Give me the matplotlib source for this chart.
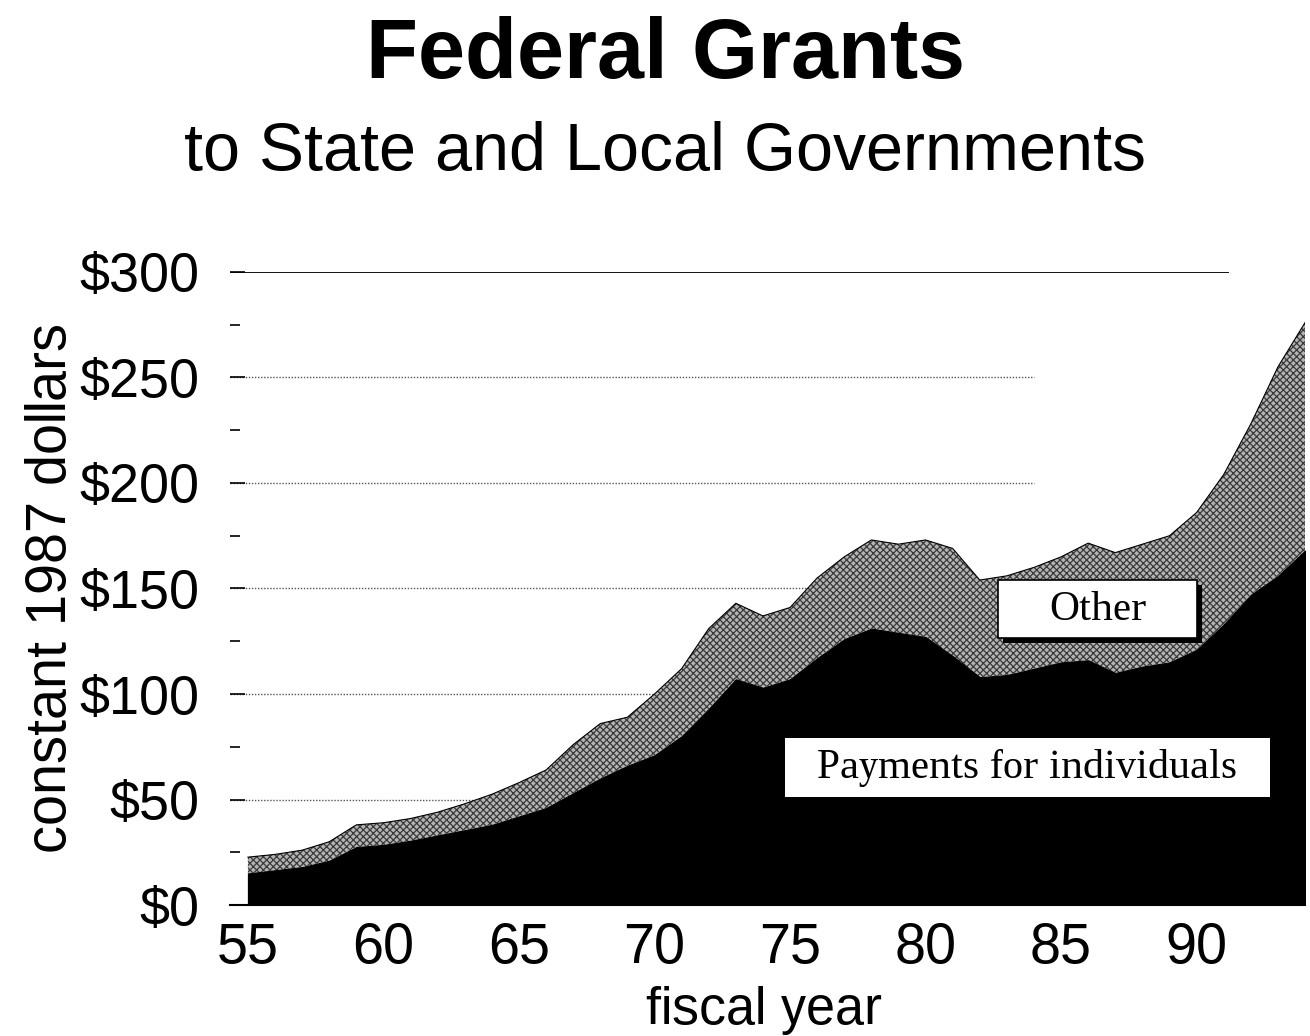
import matplotlib
matplotlib.use("Agg")
import matplotlib.pyplot as plt
from matplotlib.patches import Rectangle
import numpy as np

# fiscal years (19xx)
years = list(range(55, 95))

# billions of constant 1987 dollars
payments = [15, 16.5, 18, 21, 27.5, 28.5, 30.5, 33, 35.5, 38,
            42, 46, 53, 60, 66, 71, 80, 93, 107, 103,
            107, 117, 126, 131, 129, 127, 118, 108, 109, 112,
            115, 116, 110, 113, 115, 121, 133, 147, 156, 168]
other = [7.7, 7.5, 8, 9, 10.5, 10.5, 10.5, 11, 12.5, 14.5,
         16, 18, 23, 26, 23, 29, 32, 38, 36, 34,
         34, 38, 39, 42, 42, 46, 51, 46, 47, 48,
         50, 55.5, 57, 58, 60, 65, 71, 81, 99, 108]

y_ticks = [0, 50, 100, 150, 200, 250, 300]
y_tick_labels = ["$0", "$50", "$100", "$150", "$200", "$250", "$300"]
x_ticks = [55, 60, 65, 70, 75, 80, 85, 90]

SANS = "Liberation Sans"
SERIF = "Liberation Serif"

plt.rcParams["font.family"] = SANS
plt.rcParams["hatch.linewidth"] = 0.9
plt.rcParams["text.hinting"] = "native"
plt.rcParams["text.hinting_factor"] = 1

fig = plt.figure(figsize=(13.1, 10.36), dpi=100)
ax = fig.add_axes([0.1756, 0.1264, 0.8206, 0.6111])

x = np.array(years)
pay = np.array(payments)
total = pay + np.array(other)

# grid lines behind the areas
ax.hlines(300, 54.34, 91.2, color="black", lw=1.3, zorder=1)
ax.hlines([50, 100, 150, 200, 250], 54.34, 84, color="#555555",
          lw=1.0, linestyles=(0, (1, 1.2)), zorder=1)

ax.fill_between(x, pay, total, facecolor="#b4b4b4", edgecolor="#3a3a3a",
                hatch="xxxxx", linewidth=0, zorder=2)
ax.fill_between(x, 0, pay, facecolor="black", edgecolor="black",
                linewidth=0.8, zorder=3)
ax.plot(x, total, color="black", lw=0.8, zorder=4)

ax.set_xlim(54.34, 94)
ax.set_ylim(0, 300)

for side in ["top", "right", "left"]:
    ax.spines[side].set_visible(False)
ax.spines["bottom"].set_linewidth(1.5)
ax.spines["bottom"].set_zorder(5)

ax.set_yticks(y_ticks)
ax.set_yticklabels(y_tick_labels)
ax.set_yticks(np.arange(25, 300, 50), minor=True)
ax.tick_params(axis="y", which="major", direction="in", length=11, width=1.2,
               labelsize=39, pad=22)
ax.tick_params(axis="y", which="minor", direction="in", length=7, width=1.2)

ax.set_xticks(x_ticks)
ax.set_xticklabels([str(t) for t in x_ticks])
ax.tick_params(axis="x", which="major", length=0, labelsize=40, pad=12)

ax.set_ylabel("constant 1987 dollars", fontsize=40, va="center")
ax.yaxis.set_label_coords(-0.166, 0.50)
ax.set_xlabel("fiscal year", fontsize=38, va="top")
ax.xaxis.set_label_coords(0.497, -0.128)

# boxed series labels
ax.add_patch(Rectangle((0.7190, 0.4139), 0.1851, 0.0916, transform=ax.transAxes,
                       facecolor="black", edgecolor="none", zorder=6))
ax.add_patch(Rectangle((0.7144, 0.4218), 0.1851, 0.0916, transform=ax.transAxes,
                       facecolor="white", edgecolor="black", lw=1.2, zorder=7))
ax.text(0.8070, 0.4660, "Other", transform=ax.transAxes, fontsize=30,
        family=SERIF, ha="center", va="center", zorder=8)

ax.add_patch(Rectangle((0.5163, 0.1706), 0.4512, 0.0932, transform=ax.transAxes,
                       facecolor="white", edgecolor="none", zorder=7))
ax.text(0.7414, 0.2160, "Payments for individuals", transform=ax.transAxes,
        fontsize=30, family=SERIF, ha="center", va="center", zorder=8)

fig.text(0.508, 0.9247, "Federal Grants", fontsize=61, fontweight="bold",
         ha="center", va="baseline")
fig.text(0.508, 0.8359, "to State and Local Governments", fontsize=48,
         ha="center", va="baseline")

fig.savefig("out.png", dpi=100)
